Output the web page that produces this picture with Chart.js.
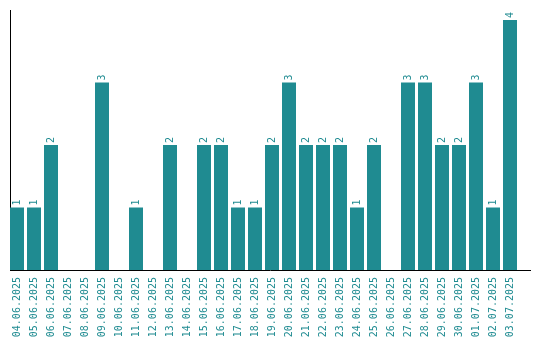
<!DOCTYPE html>
<html>
<head>
<meta charset="utf-8">
<script src="https://cdn.jsdelivr.net/npm/chart.js@4/dist/chart.umd.min.js"></script>
<style>
html,body{margin:0;padding:0;background:#fff;}
#wrap{width:540px;height:340px;}
</style>
</head>
<body>
<div id="wrap"><canvas id="c" width="540" height="340"></canvas></div>
<script>
const categories = ["04.06.2025","05.06.2025","06.06.2025","07.06.2025","08.06.2025","09.06.2025","10.06.2025","11.06.2025","12.06.2025","13.06.2025","14.06.2025","15.06.2025","16.06.2025","17.06.2025","18.06.2025","19.06.2025","20.06.2025","21.06.2025","22.06.2025","23.06.2025","24.06.2025","25.06.2025","26.06.2025","27.06.2025","28.06.2025","29.06.2025","30.06.2025","01.07.2025","02.07.2025","03.07.2025"];
const counts = [1,1,2,0,0,3,0,1,0,2,0,2,2,1,1,2,3,2,2,2,1,2,0,3,3,2,2,3,1,4];

const teal = "#1f8b91";
const valueLabels = {
  id: "valueLabels",
  afterDatasetsDraw(chart) {
    const ctx = chart.ctx;
    const meta = chart.getDatasetMeta(0);
    ctx.save();
    ctx.fillStyle = teal;
    ctx.font = "10px 'DejaVu Sans Mono'";
    ctx.textAlign = "left";
    ctx.textBaseline = "middle";
    meta.data.forEach((bar, i) => {
      const v = counts[i];
      if (!v) return;
      ctx.save();
      ctx.translate(bar.x + 0.5, bar.y - 2);
      ctx.rotate(-Math.PI / 2);
      ctx.fillText(String(v), 0, 0);
      ctx.restore();
    });
    ctx.restore();
  }
};

const points = counts.map((v, i) => ({ x: i, y: v }));

new Chart(document.getElementById("c"), {
  type: "bar",
  data: {
    datasets: [{
      data: points,
      backgroundColor: teal,
      borderWidth: 0,
      barPercentage: 14 / 17,
      categoryPercentage: 1.0
    }]
  },
  options: {
    responsive: false,
    animation: false,
    devicePixelRatio: 1,
    layout: { padding: { left: 10, right: 10, top: 10, bottom: 0 } },
    plugins: { legend: { display: false }, tooltip: { enabled: false } },
    scales: {
      x: {
        type: "linear",
        offset: false,
        min: -7 / 17,
        max: 520 / 17 - 7 / 17,
        grid: { display: false, drawTicks: false },
        border: { display: true, color: "#000", width: 1 },
        afterBuildTicks(scale) { scale.ticks = categories.map((_, i) => ({ value: i })); },
        afterFit(scale) { scale.height = 70; },
        ticks: {
          color: teal,
          font: { family: "'DejaVu Sans Mono'", size: 10 },
          minRotation: 90,
          maxRotation: 90,
          autoSkip: false,
          padding: 7,
          callback: (value) => categories[value] ?? ""
        }
      },
      y: {
        min: 0,
        max: 4.16,
        grid: { display: false, drawTicks: false },
        border: { display: true, color: "#000", width: 1 },
        ticks: { display: false },
        afterFit(scale) { scale.width = 0; }
      }
    }
  },
  plugins: [valueLabels]
});
</script>
</body>
</html>
